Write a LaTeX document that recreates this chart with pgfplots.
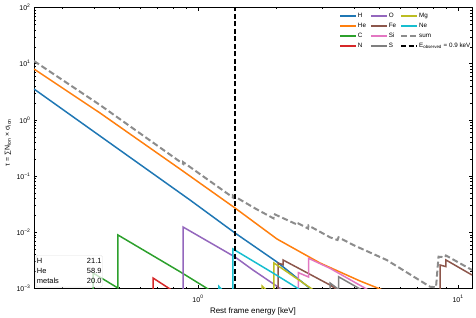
\documentclass[border=0pt]{standalone}
\usepackage{fontspec}
\setmainfont{Liberation Sans}
\usepackage{pgfplots}
\pgfplotsset{compat=1.18}
\definecolor{cH}{HTML}{1F77B4}
\definecolor{cHe}{HTML}{FF7F0E}
\definecolor{cC}{HTML}{2CA02C}
\definecolor{cN}{HTML}{D62728}
\definecolor{cO}{HTML}{9467BD}
\definecolor{cFe}{HTML}{8C564B}
\definecolor{cSi}{HTML}{E377C2}
\definecolor{cS}{HTML}{7F7F7F}
\definecolor{cMg}{HTML}{BCBD22}
\definecolor{cNe}{HTML}{17BECF}
\definecolor{cSum}{HTML}{8C8C8C}
\begin{document}
\begin{tikzpicture}
\path[use as bounding box] (-34bp,-29.5bp) rectangle (442bp,288.5bp);
\node[rotate=90, font=\fontsize{7}{8}\selectfont, inner sep=0pt] at (-26bp,146bp) {τ = ∑N\textsubscript{ion} × σ\textsubscript{ion}};
\begin{axis}[
  at={(0,0)}, anchor=south west,
  scale only axis, width=438bp, height=281bp,
  xmode=log, ymode=log,
  xmin=0.234, xmax=11.32, ymin=1e-3, ymax=1e2,
  xtick={1,10}, xticklabels={10\textsuperscript{0},10\textsuperscript{1}},
  ytick={1e-3,1e-2,1e-1,1,10,100},
  yticklabels={10\textsuperscript{−3},10\textsuperscript{−2},10\textsuperscript{−1},10\textsuperscript{0},10\textsuperscript{1},10\textsuperscript{2}},
  minor xtick={0.3,0.4,0.5,0.6,0.7,0.8,0.9,2,3,4,5,6,7,8,9},
  minor ytick={0.002,0.003,0.004,0.005,0.006,0.007,0.008,0.009,0.02,0.03,0.04,0.05,0.06,0.07,0.08,0.09,0.2,0.3,0.4,0.5,0.6,0.7,0.8,0.9,2,3,4,5,6,7,8,9,20,30,40,50,60,70,80,90},
  tick align=inside, tick pos=both,
  major tick length=3.5bp, minor tick length=2bp,
  tick style={black, line width=0.5bp},
  axis line style={line width=0.8bp},
  ticklabel style={font=\fontsize{7}{8}\selectfont},
  xticklabel style={anchor=base, yshift=-13.5bp},
  xlabel={Rest frame energy [keV]},
  xlabel style={font=\fontsize{8}{9}\selectfont, at={(axis description cs:0.5,0)}, anchor=base, yshift=-25bp},
  legend columns=3,
  legend cell align=left,
  legend image code/.code={\draw[#1] (0bp,0bp) -- (16bp,0bp);},
  legend style={font=\fontsize{6.3}{7}\selectfont, draw=none, fill=none, inner sep=0pt,
    at={(rel axis cs:0.6963,0.986)}, anchor=north west,
    nodes={inner sep=1bp, text height=5bp, text depth=2bp},
    row sep=1bp,
    /tikz/every odd column/.style={column sep=0bp},
    /tikz/every even column/.style={column sep=3bp}},
  every axis plot/.append style={line width=1.5bp},
]
% H
\addplot[cH, forget plot] coordinates {(0.2340,3.547) (0.4199,0.5171) (0.9316,0.03756) (1.388,0.009716) (2.013,0.002962) (2.626,0.001108) (2.946,7.35e-4)};
% He
\addplot[cHe, forget plot] coordinates {(0.2340,8.048) (0.4199,1.327) (0.8527,0.1337) (1.388,0.02706) (2.013,0.007601) (2.946,0.002843) (3.517,0.001966) (4.199,0.001360) (5.012,9.80e-4) (5.476,8.32e-4)};
% C
\addplot[cC, forget plot] coordinates {(0.3947,5e-4) (0.3947,0.001887) (0.4922,1.02e-3) (0.4922,0.008951) (0.8527,0.001990) (1.0925,9.8e-4) (1.1625,8e-4)};
% N
\addplot[cN, forget plot] coordinates {(0.6715,5e-4) (0.6715,0.001537) (0.7803,9.8e-4) (0.8377,7.5e-4)};
% O
\addplot[cO, forget plot] coordinates {(0.8757,5e-4) (0.8757,0.01243) (1.388,0.003635) (1.627,0.002134) (2.085,9.8e-4) (2.3,7.5e-4)};
% Fe
\addplot[cFe, forget plot] coordinates {(2.031,5e-4) (2.031,0.002843) (2.123,0.00265) (2.123,0.00322) (3.219,0.001154) (3.4,9.8e-4) (3.6,8e-4)};
\addplot[cFe, forget plot] coordinates {(8.526,5e-4) (8.526,0.002619) (8.99,0.00245) (8.99,0.003214) (11.32,0.001738)};
% Si
\addplot[cSi, forget plot] coordinates {(2.435,5e-4) (2.435,0.001911) (2.661,0.001602) (2.661,0.003447) (3.219,0.002287) (4.5,9.5e-4) (4.8,8e-4)};
% S
\addplot[cS, forget plot] coordinates {(3.219,5e-4) (3.219,0.001253) (3.456,9.8e-4)};
\addplot[cS, forget plot] coordinates {(3.471,5e-4) (3.471,0.001622) (4.199,9.8e-4) (4.4,8e-4)};
% Mg
\addplot[cMg, forget plot] coordinates {(1.763,5e-4) (1.763,0.001108) (1.85,9e-4)};
\addplot[cMg, forget plot] coordinates {(1.960,5e-4) (1.960,0.002843) (2.744,9.8e-4) (2.9,8e-4)};
% Ne
\addplot[cNe, forget plot] coordinates {(1.204,5e-4) (1.204,0.001085) (1.25,9e-4)};
\addplot[cNe, forget plot] coordinates {(1.363,5e-4) (1.363,0.005044) (1.943,0.001887) (2.425,1.0e-3) (2.6,8e-4)};
% sum
\addplot[cSum, line width=2bp, dash pattern=on 6bp off 3bp, forget plot] coordinates {(0.234,11.17) (0.4199,1.841) (0.8527,0.1804) (0.8757,0.1656) (0.8757,0.178) (1.363,0.04160) (1.363,0.04517) (1.682,0.02566) (1.951,0.01774) (1.960,0.02117) (2.425,0.01349) (2.435,0.01434) (2.649,0.01168) (2.661,0.01321) (3.219,0.008147) (3.44,0.007295) (3.471,0.008147) (3.956,0.005943) (5.318,0.003214) (7.803,0.001076) (8.23,0.00105) (8.414,0.003681) (8.913,0.003593) (8.99,0.003866) (11.32,0.002134)};
% observed energy
\addplot[black, line width=1.5bp, dash pattern=on 5bp off 2.5bp, forget plot] coordinates {(1.388,1e-3) (1.388,1e2)};
% legend (matplotlib column order)
\addlegendimage{cH, line width=1.8bp}\addlegendentry{H}
\addlegendimage{cO, line width=1.8bp}\addlegendentry{O}
\addlegendimage{cMg, line width=1.8bp}\addlegendentry{Mg}
\addlegendimage{cHe, line width=1.8bp}\addlegendentry{He}
\addlegendimage{cFe, line width=1.8bp}\addlegendentry{Fe}
\addlegendimage{cNe, line width=1.8bp}\addlegendentry{Ne}
\addlegendimage{cC, line width=1.8bp}\addlegendentry{C}
\addlegendimage{cSi, line width=1.8bp}\addlegendentry{Si}
\addlegendimage{cSum, line width=2bp, dash pattern=on 6bp off 3bp}\addlegendentry{sum}
\addlegendimage{cN, line width=1.8bp}\addlegendentry{N}
\addlegendimage{cS, line width=1.8bp}\addlegendentry{S}
\addlegendimage{black, line width=1.8bp, dash pattern=on 5bp off 2.5bp}\addlegendentry{E\textsubscript{observed} = 0.9 keV}
\node[anchor=south west, draw=gray!25, fill=white, fill opacity=0.75, text opacity=1, rounded corners=1.5bp, inner sep=1bp, font=\fontsize{7.5}{10}\selectfont] at (rel axis cs:0.004,0.004) {\begin{tabular}{@{}l@{\hspace{28bp}}r@{}}H & 21.1\\ He & 58.9\\ metals & 20.0\end{tabular}};
\end{axis}
\end{tikzpicture}
\end{document}
